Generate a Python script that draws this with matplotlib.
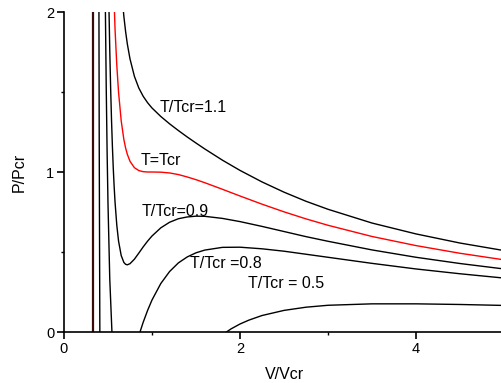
import matplotlib
matplotlib.use("Agg")
import matplotlib.pyplot as plt
from matplotlib.ticker import MultipleLocator

plt.rcParams['font.family'] = ['Liberation Sans', 'DejaVu Sans']

# Isotherms (V/Vcr, P/Pcr)
v_11 = [0.65, 0.68, 0.70, 0.72, 0.75, 0.80, 0.85, 0.90, 0.95, 1.00, 1.10, 1.20, 1.30, 1.40,
        1.50, 1.60, 1.80, 2.00, 2.25, 2.50, 2.75, 3.00, 3.50, 4.00, 4.50, 5.00]
p_11 = [2.163, 1.974, 1.878, 1.799, 1.707, 1.598, 1.525, 1.473, 1.433, 1.400, 1.347, 1.301,
        1.259, 1.219, 1.181, 1.144, 1.074, 1.010, 0.938, 0.874, 0.817, 0.767, 0.681, 0.613,
        0.556, 0.509]

v_10 = [0.55, 0.58, 0.60, 0.62, 0.65, 0.68, 0.70, 0.72, 0.75, 0.80, 0.85, 0.90, 0.95, 1.00,
        1.10, 1.20, 1.30, 1.40, 1.50, 1.60, 1.80, 2.00, 2.25, 2.50, 2.75, 3.00, 3.50, 4.00,
        4.50, 5.00]
p_10 = [2.390, 1.893, 1.667, 1.498, 1.320, 1.204, 1.150, 1.110, 1.067, 1.027, 1.009, 1.002,
        1.000, 1.000, 0.999, 0.994, 0.984, 0.969, 0.952, 0.933, 0.892, 0.850, 0.799, 0.751,
        0.707, 0.667, 0.597, 0.540, 0.492, 0.451]

v_09 = [0.50, 0.51, 0.52, 0.53, 0.54, 0.55, 0.56, 0.57, 0.58, 0.60, 0.62, 0.65, 0.68, 0.70,
        0.72, 0.75, 0.80, 0.85, 0.90, 0.95, 1.00, 1.10, 1.20, 1.30, 1.40, 1.50, 1.60, 1.80,
        2.00, 2.25, 2.50, 2.75, 3.00, 3.50, 4.00, 4.50, 5.00]
p_09 = [2.400, 2.051, 1.762, 1.523, 1.325, 1.160, 1.022, 0.908, 0.812, 0.667, 0.568, 0.478,
        0.435, 0.423, 0.420, 0.427, 0.455, 0.493, 0.532, 0.568, 0.600, 0.651, 0.686, 0.708,
        0.719, 0.724, 0.723, 0.710, 0.690, 0.660, 0.628, 0.596, 0.567, 0.513, 0.467, 0.428,
        0.394]

v_08 = [0.45, 0.46, 0.47, 0.48, 0.49, 0.50, 0.52, 0.55, 0.58, 0.60, 0.65, 0.70, 0.75, 0.80,
        0.85, 0.90, 0.95, 1.00, 1.10, 1.20, 1.30, 1.40, 1.50, 1.60, 1.80, 2.00, 2.25, 2.50,
        2.75, 3.00, 3.50, 4.00, 4.50, 5.00]
p_08 = [3.471, 2.664, 2.029, 1.525, 1.122, 0.800, 0.333, -0.071, -0.269, -0.333, -0.364,
        -0.304, -0.213, -0.116, -0.023, 0.061, 0.135, 0.200, 0.303, 0.378, 0.432, 0.469,
        0.495, 0.512, 0.529, 0.530, 0.520, 0.505, 0.486, 0.467, 0.429, 0.394, 0.364, 0.337]

v_05 = [0.38, 0.39, 0.40, 0.41, 1.50, 1.80, 1.90, 2.00, 2.10, 2.25, 2.50, 2.75, 3.00, 3.50,
        4.00, 4.50, 5.00]
p_05 = [7.795, 3.805, 1.250, -0.456, -0.190, -0.017, 0.020, 0.050, 0.074, 0.103, 0.135,
        0.155, 0.167, 0.176, 0.176, 0.172, 0.166]

asymptote_v = [1 / 3]

labels = ["T/Tcr=1.1", "T=Tcr", "T/Tcr=0.9", "T/Tcr =0.8", "T/Tcr = 0.5"]
label_x = [1.09, 0.87, 0.88, 1.43, 2.09]
label_y = [1.40, 1.07, 0.755, 0.43, 0.30]

x_ticks = [0, 2, 4]
y_ticks = [0, 1, 2]

fig = plt.figure(figsize=(5.02, 3.83), dpi=100)
ax = fig.add_axes([64 / 502, 51 / 383, 440 / 502, 320 / 383])

lw = 1.0
ax.plot(v_11, p_11, color='black', lw=lw)
ax.plot(v_10, p_10, color='#ff0000', lw=lw)
ax.plot(v_09, p_09, color='black', lw=lw)
ax.plot(v_08, p_08, color='black', lw=lw)
ax.plot(v_05, p_05, color='black', lw=lw)
for v in asymptote_v:
    ax.axvline(v, color='#3a0a0a', lw=1.6)

for t, x, y in zip(labels, label_x, label_y):
    ax.text(x, y, t, fontsize=11.5, ha='left', va='center')

ax.set_xlim(0, 5)
ax.set_ylim(0, 2)
ax.set_xticks(x_ticks)
ax.set_yticks(y_ticks)
ax.xaxis.set_minor_locator(MultipleLocator(1))
ax.yaxis.set_minor_locator(MultipleLocator(0.5))
ax.spines['top'].set_visible(False)
ax.spines['right'].set_visible(False)
for s in ['left', 'bottom']:
    ax.spines[s].set_linewidth(1.2)
ax.tick_params(which='major', direction='out', length=5, width=1.2, labelsize=10.5, pad=2)
ax.tick_params(which='minor', direction='out', length=2.5, width=1.0)
ax.set_xlabel("V/Vcr", fontsize=11.5, labelpad=8)
ax.set_ylabel("P/Pcr", fontsize=11.5, labelpad=14)

fig.savefig("out.png", dpi=100)
